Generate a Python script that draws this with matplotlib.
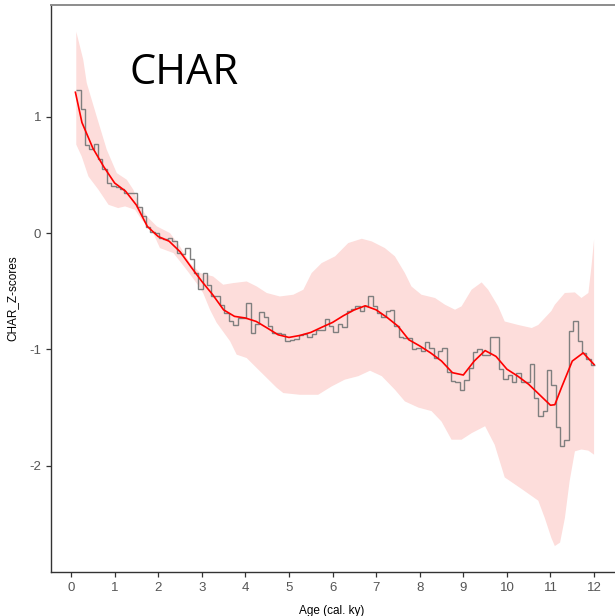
import numpy as np
import matplotlib
matplotlib.use("Agg")
import matplotlib.pyplot as plt

plt.rcParams["axes.unicode_minus"] = False

# ---- data ----
bin_start = 0.12
bin_width = 0.1
char_values = [
    1.23, 1.07, 0.76, 0.72, 0.765, 0.64, 0.55, 0.43, 0.405, 0.395,
    0.38, 0.345, 0.345, 0.345, 0.22, 0.145, 0.05, 0.01, 0.0, -0.04,
    -0.05, -0.04, -0.07, -0.17, -0.18, -0.13, -0.22, -0.34, -0.48, -0.34,
    -0.45, -0.54, -0.54, -0.62, -0.69, -0.76, -0.79, -0.73, -0.73, -0.60,
    -0.86, -0.78, -0.68, -0.72, -0.80, -0.86, -0.86, -0.87, -0.93, -0.92,
    -0.91, -0.88, -0.87, -0.89, -0.87, -0.83, -0.83, -0.74, -0.80, -0.85,
    -0.78, -0.81, -0.67, -0.65, -0.63, -0.67, -0.63, -0.54, -0.63, -0.69,
    -0.72, -0.67, -0.66, -0.80, -0.89, -0.90, -0.90, -1.00, -0.99, -1.01,
    -0.94, -0.99, -1.07, -1.01, -0.99, -1.19, -1.27, -1.28, -1.35, -1.26,
    -1.16, -1.02, -1.00, -1.05, -1.05, -0.89, -0.89, -1.17, -1.25, -1.22,
    -1.28, -1.20, -1.28, -1.28, -1.125, -1.42, -1.575, -1.53, -1.18, -1.31,
    -1.67, -1.83, -1.78, -0.845, -0.754, -0.93, -1.03, -1.08, -1.13,
]

smooth_x = [0.1, 0.25, 0.5, 0.75, 1.0, 1.25, 1.5, 1.75, 2.0, 2.25, 2.5, 2.75,
            3.0, 3.25, 3.5, 3.75, 4.0, 4.25, 4.5, 4.75, 5.0, 5.25, 5.5, 5.75,
            6.0, 6.25, 6.5, 6.75, 7.0, 7.25, 7.5, 7.75, 8.0, 8.25, 8.5, 8.75,
            9.0, 9.25, 9.5, 9.75, 10.0, 10.25, 10.5, 10.75, 11.0, 11.1, 11.25,
            11.5, 11.75, 12.0]
smooth_y = [1.21, 0.95, 0.73, 0.57, 0.43, 0.36, 0.24, 0.057, -0.03, -0.07,
            -0.16, -0.29, -0.415, -0.53, -0.66, -0.716, -0.73, -0.76, -0.816,
            -0.874, -0.897, -0.88, -0.854, -0.81, -0.768, -0.71, -0.66, -0.625,
            -0.66, -0.725, -0.80, -0.917, -0.97, -1.03, -1.10, -1.20, -1.22,
            -1.10, -1.01, -1.06, -1.17, -1.23, -1.30, -1.39, -1.48, -1.475,
            -1.33, -1.10, -1.03, -1.13]

upper_x = [0.12, 0.28, 0.36, 0.59, 0.82, 1.05, 1.28, 1.43, 1.58, 1.74, 1.97,
           2.27, 2.5, 2.73, 2.96, 3.26, 3.49, 3.72, 4.03, 4.26, 4.49, 4.79,
           5.10, 5.33, 5.52, 5.75, 6.06, 6.36, 6.67, 6.90, 7.20, 7.43, 7.66,
           7.81, 8.04, 8.35, 8.58, 8.81, 8.96, 9.19, 9.42, 9.57, 9.80, 9.95,
           10.26, 10.57, 10.72, 11.02, 11.1, 11.33, 11.56, 11.71, 11.87, 11.94,
           12.0]
upper_y = [1.73, 1.49, 1.29, 1.00, 0.716, 0.515, 0.458, 0.372, 0.23, 0.143,
           0.057, 0.0, -0.115, -0.258, -0.344, -0.373, -0.444, -0.43, -0.416,
           -0.459, -0.515, -0.545, -0.53, -0.487, -0.344, -0.258, -0.20,
           -0.086, -0.049, -0.072, -0.129, -0.20, -0.344, -0.459, -0.53,
           -0.558, -0.616, -0.659, -0.63, -0.487, -0.424, -0.487, -0.63,
           -0.76, -0.79, -0.816, -0.79, -0.67, -0.616, -0.515, -0.51, -0.558,
           -0.515, -0.287, -0.057]

lower_x = [0.12, 0.245, 0.40, 0.63, 0.86, 1.08, 1.24, 1.47, 1.62, 1.85, 2.04,
           2.35, 2.65, 2.88, 3.03, 3.19, 3.34, 3.65, 3.80, 4.03, 4.26, 4.49,
           4.72, 4.87, 5.25, 5.67, 5.98, 6.28, 6.59, 6.86, 7.13, 7.43, 7.66,
           7.97, 8.27, 8.5, 8.73, 8.96, 9.19, 9.5, 9.72, 9.95, 10.34, 10.72,
           10.87, 11.02, 11.1, 11.22, 11.33, 11.44, 11.56, 11.71, 11.87, 12.0]
lower_y = [0.76, 0.658, 0.486, 0.372, 0.243, 0.215, 0.229, 0.20, 0.114, 0.028,
           -0.129, -0.172, -0.315, -0.43, -0.515, -0.66, -0.77, -0.93, -1.045,
           -1.074, -1.16, -1.245, -1.33, -1.375, -1.39, -1.39, -1.318, -1.26,
           -1.23, -1.183, -1.23, -1.346, -1.447, -1.50, -1.53, -1.62, -1.776,
           -1.776, -1.72, -1.66, -1.82, -2.10, -2.20, -2.30, -2.45, -2.62,
           -2.69, -2.66, -2.45, -2.13, -1.876, -1.86, -1.87, -1.905]

x_ticks = [0, 1, 2, 3, 4, 5, 6, 7, 8, 9, 10, 11, 12]
y_ticks = [-2, -1, 0, 1]

# ---- figure ----
W, H = 615, 616
fig = plt.figure(figsize=(W / 100, H / 100), dpi=100)
ax = fig.add_axes([51 / W, 44 / H, 1 - 51 / W, (572 - 5) / H])

band_px = np.concatenate([upper_x, lower_x[::-1]])
band_py = np.concatenate([upper_y, lower_y[::-1]])
ax.fill(band_px, band_py, color="#FDDDDB", lw=0, zorder=1)

edges = bin_start + bin_width * np.arange(len(char_values) + 1)
ax.stairs(char_values, edges, baseline=None, color="#7F7F7F", lw=1.0, zorder=2)

ax.plot(smooth_x, smooth_y, color="#FF0000", lw=1.2, zorder=3)

ax.set_xlim(-0.46, 12.48)
ax.set_ylim(-2.913, 1.96)
ax.set_xticks(x_ticks)
ax.set_yticks(y_ticks)

ax.tick_params(axis="both", colors="#333333", labelcolor="#555555",
               labelsize=9.5, length=3.5, width=0.9)
for lab in ax.get_xticklabels() + ax.get_yticklabels():
    lab.set_fontfamily(["Liberation Sans", "DejaVu Sans"])

for s in ["left", "bottom"]:
    ax.spines[s].set_color("#333333")
    ax.spines[s].set_linewidth(1.0)
ax.spines["right"].set_visible(False)
ax.spines["top"].set_color("#8C8C8C")
ax.spines["top"].set_linewidth(1.4)

ax.set_xlabel("Age (cal. ky)", fontsize=8.5, family=["Liberation Sans", "DejaVu Sans"])
ax.set_ylabel("CHAR_Z-scores", fontsize=8.5, family=["Liberation Sans", "DejaVu Sans"])
ax.xaxis.set_label_coords((332 - 51) / (W - 51), -(605 - 572) / 567)
ax.yaxis.set_label_coords(-(51 - 18) / (W - 51), (572 - 298) / 567)

fig.text(130 / W, 1 - 84 / H, "CHAR", fontsize=30, family=["Open Sans", "DejaVu Sans"],
         ha="left", va="baseline", color="black")

fig.savefig("out.png", dpi=100)
